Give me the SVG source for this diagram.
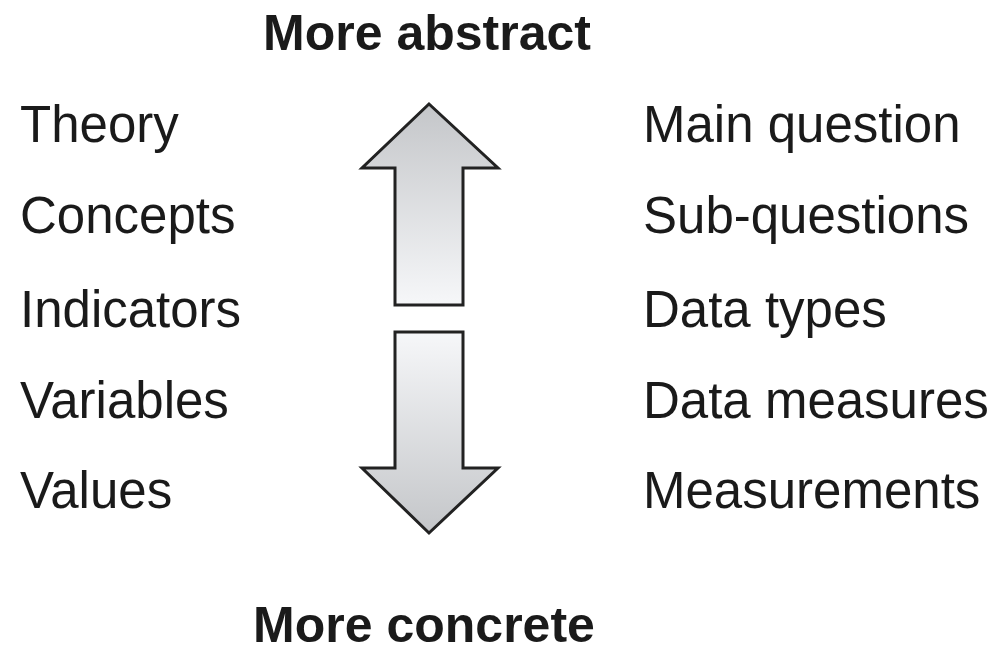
<svg xmlns="http://www.w3.org/2000/svg" width="999" height="653" viewBox="0 0 999 653">
<style>
text{font-family:"Liberation Sans",Arial,sans-serif;fill:#1a1a1a;}
.t{font-size:51px;}
.h{font-size:50px;font-weight:bold;text-anchor:middle;}
.arr{stroke:#222;stroke-width:3;stroke-linejoin:miter;}
</style>
<defs>
<linearGradient id="gu" x1="0" y1="0" x2="0" y2="1">
<stop offset="0" stop-color="#c4c6c9"/>
<stop offset="1" stop-color="#f6f7f9"/>
</linearGradient>
<linearGradient id="gd" x1="0" y1="0" x2="0" y2="1">
<stop offset="0" stop-color="#f6f7f9"/>
<stop offset="1" stop-color="#c4c6c9"/>
</linearGradient>
</defs>
<rect width="999" height="653" fill="#fff"/>
<g id="title-top"><text class="h" x="427" y="50">More abstract</text></g>
<g id="title-bottom"><text class="h" x="424" y="642">More concrete</text></g>
<g id="left">
<text class="t" x="20" y="142">Theory</text>
<text class="t" x="20" y="233">Concepts</text>
<text class="t" x="20" y="327">Indicators</text>
<text class="t" x="20" y="418">Variables</text>
<text class="t" x="20" y="508">Values</text>
</g>
<g id="right">
<text class="t" x="643" y="142">Main question</text>
<text class="t" x="643" y="233">Sub-questions</text>
<text class="t" x="643" y="327">Data types</text>
<text class="t" x="643" y="418">Data measures</text>
<text class="t" x="643" y="508">Measurements</text>
</g>
<g id="arrow-up"><path class="arr" fill="url(#gu)" d="M429,104 L498,168 L463,168 L463,305 L395,305 L395,168 L362,168 Z"/></g>
<g id="arrow-down"><path class="arr" fill="url(#gd)" d="M395,332 L463,332 L463,468 L498,468 L429,533 L362,468 L395,468 Z"/></g>
</svg>
